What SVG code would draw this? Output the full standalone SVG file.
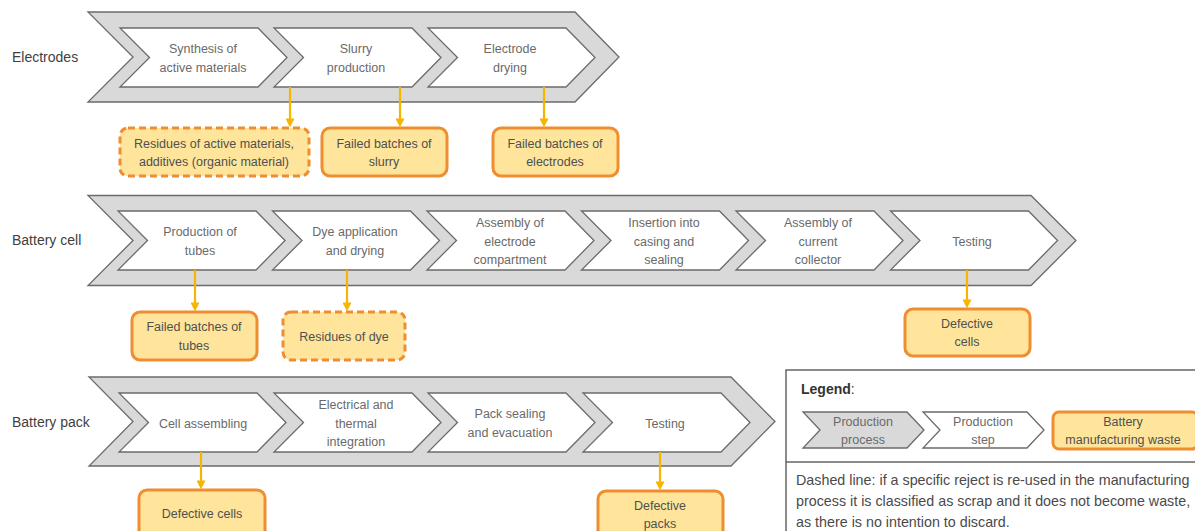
<svg xmlns="http://www.w3.org/2000/svg" width="1195" height="531" viewBox="0 0 1195 531">
  <defs>
    <style>
      .proc { fill: #d9d9d9; stroke: #6b6b6b; stroke-width: 1.3; stroke-linejoin: miter; }
      .step { fill: #ffffff; stroke: #6b6b6b; stroke-width: 1.3; stroke-linejoin: miter; }
      .waste { fill: #fee59b; stroke: #ef8e30; stroke-width: 3; }
      .scrap { fill: #fee59b; stroke: #ef8e30; stroke-width: 3; stroke-dasharray: 7 4; }
      .flow { stroke: #f6b500; stroke-width: 2.2; fill: none; marker-end: url(#head); }
      text { font-family: "Liberation Sans", Arial, sans-serif; }
      .row { font-size: 14px; fill: #3f3f3f; }
      .st { font-size: 12.5px; fill: #6a6a6a; text-anchor: middle; }
      .wt { font-size: 12.5px; fill: #505050; text-anchor: middle; }
      .lg { font-size: 14px; fill: #333333; }
      .note { font-size: 14.3px; fill: #4a4a4a; }
    </style>
    <marker id="head" viewBox="0 0 10 10" refX="4" refY="5" markerWidth="9" markerHeight="9" markerUnits="userSpaceOnUse" orient="auto">
      <path d="M0,0 L10,5 L0,10 z" fill="#f6b500"/>
    </marker>
  </defs>

  <!-- Row: Electrodes -->
  <g id="row-electrodes">
    <text class="row" x="12" y="62">Electrodes</text>
    <polygon class="proc" points="88,12 575,12 619,57 575,102 88,102 133,57"/>
  </g>
  <g id="step-synthesis">
    <polygon class="step" points="120,28 258,28 287,57.5 258,87 120,87 149.5,57.5"/>
    <text class="st" x="203" y="53">Synthesis of</text>
    <text class="st" x="203" y="72">active materials</text>
  </g>
  <g id="step-slurry">
    <polygon class="step" points="274,28 412,28 441,57.5 412,87 274,87 303.5,57.5"/>
    <text class="st" x="356" y="53">Slurry</text>
    <text class="st" x="356" y="72">production</text>
  </g>
  <g id="step-electrode-drying">
    <polygon class="step" points="428,28 566,28 595,57.5 566,87 428,87 457.5,57.5"/>
    <text class="st" x="510" y="53">Electrode</text>
    <text class="st" x="510" y="72">drying</text>
  </g>
  <g id="waste-residues-active">
    <rect class="scrap" x="120" y="128" width="189" height="48" rx="8"/>
    <text class="wt" x="214" y="148">Residues of active materials,</text>
    <text class="wt" x="214" y="166">additives (organic material)</text>
  </g>
  <g id="waste-slurry">
    <rect class="waste" x="322" y="128" width="125" height="48" rx="8"/>
    <text class="wt" x="384" y="148">Failed batches of</text>
    <text class="wt" x="384" y="166">slurry</text>
  </g>
  <g id="waste-electrodes">
    <rect class="waste" x="493" y="128" width="125" height="48" rx="8"/>
    <text class="wt" x="555" y="148">Failed batches of</text>
    <text class="wt" x="555" y="166">electrodes</text>
  </g>

  <!-- Row: Battery cell -->
  <g id="row-battery-cell">
    <text class="row" x="12" y="245">Battery cell</text>
    <polygon class="proc" points="88,195.5 1031,195.5 1076,240.5 1031,285.5 88,285.5 133,240.5"/>
  </g>
  <g id="step-tubes">
    <polygon class="step" points="118,211 256,211 285,240.5 256,270 118,270 147.5,240.5"/>
    <text class="st" x="200" y="236">Production of</text>
    <text class="st" x="200" y="255">tubes</text>
  </g>
  <g id="step-dye">
    <polygon class="step" points="272.5,211 410.5,211 439.5,240.5 410.5,270 272.5,270 302,240.5"/>
    <text class="st" x="355" y="236">Dye application</text>
    <text class="st" x="355" y="255">and drying</text>
  </g>
  <g id="step-electrode-compartment">
    <polygon class="step" points="427,211 565,211 594,240.5 565,270 427,270 456.5,240.5"/>
    <text class="st" x="510" y="227">Assembly of</text>
    <text class="st" x="510" y="245.5">electrode</text>
    <text class="st" x="510" y="264">compartment</text>
  </g>
  <g id="step-casing">
    <polygon class="step" points="581.5,211 719.5,211 748.5,240.5 719.5,270 581.5,270 611,240.5"/>
    <text class="st" x="664" y="227">Insertion into</text>
    <text class="st" x="664" y="245.5">casing and</text>
    <text class="st" x="664" y="264">sealing</text>
  </g>
  <g id="step-collector">
    <polygon class="step" points="736,211 874,211 903,240.5 874,270 736,270 765.5,240.5"/>
    <text class="st" x="818" y="227">Assembly of</text>
    <text class="st" x="818" y="245.5">current</text>
    <text class="st" x="818" y="264">collector</text>
  </g>
  <g id="step-cell-testing">
    <polygon class="step" points="890.5,211 1028.5,211 1057.5,240.5 1028.5,270 890.5,270 920,240.5"/>
    <text class="st" x="972" y="245.5">Testing</text>
  </g>
  <g id="waste-tubes">
    <rect class="waste" x="132" y="312" width="125" height="48" rx="8"/>
    <text class="wt" x="194" y="331">Failed batches of</text>
    <text class="wt" x="194" y="349.5">tubes</text>
  </g>
  <g id="waste-dye">
    <rect class="scrap" x="283" y="312" width="122" height="48" rx="8"/>
    <text class="wt" x="344" y="340.5">Residues of dye</text>
  </g>
  <g id="waste-defective-cells-test">
    <rect class="waste" x="905" y="309" width="125" height="47" rx="8"/>
    <text class="wt" x="967" y="327.5">Defective</text>
    <text class="wt" x="967" y="346">cells</text>
  </g>

  <!-- Row: Battery pack -->
  <g id="row-battery-pack">
    <text class="row" x="12" y="427">Battery pack</text>
    <polygon class="proc" points="89,377 731,377 775,421.5 731,466 89,466 133,421.5"/>
  </g>
  <g id="step-cell-assembling">
    <polygon class="step" points="119,393 257,393 286,422.5 257,452 119,452 148.5,422.5"/>
    <text class="st" x="203" y="427.5">Cell assembling</text>
  </g>
  <g id="step-integration">
    <polygon class="step" points="274,393 412,393 441,422.5 412,452 274,452 303.5,422.5"/>
    <text class="st" x="356" y="409">Electrical and</text>
    <text class="st" x="356" y="427.5">thermal</text>
    <text class="st" x="356" y="446">integration</text>
  </g>
  <g id="step-pack-sealing">
    <polygon class="step" points="428,393 566,393 595,422.5 566,452 428,452 457.5,422.5"/>
    <text class="st" x="510" y="418">Pack sealing</text>
    <text class="st" x="510" y="437">and evacuation</text>
  </g>
  <g id="step-pack-testing">
    <polygon class="step" points="583,393 721,393 750,422.5 721,452 583,452 612.5,422.5"/>
    <text class="st" x="665" y="427.5">Testing</text>
  </g>
  <g id="waste-defective-cells">
    <rect class="waste" x="139" y="490" width="126" height="60" rx="8"/>
    <text class="wt" x="202" y="518">Defective cells</text>
  </g>
  <g id="waste-defective-packs">
    <rect class="waste" x="598" y="491" width="125" height="60" rx="8"/>
    <text class="wt" x="660" y="509.5">Defective</text>
    <text class="wt" x="660" y="528">packs</text>
  </g>

  <!-- Connectors -->
  <g id="connectors">
    <line class="flow" x1="290" y1="87" x2="290" y2="122"/>
    <line class="flow" x1="400" y1="87" x2="400" y2="122"/>
    <line class="flow" x1="544" y1="87" x2="544" y2="122"/>
    <line class="flow" x1="195" y1="270" x2="195" y2="306"/>
    <line class="flow" x1="347" y1="270" x2="347" y2="306"/>
    <line class="flow" x1="967" y1="270" x2="967" y2="303"/>
    <line class="flow" x1="201" y1="452" x2="201" y2="484"/>
    <line class="flow" x1="660" y1="452" x2="660" y2="485"/>
  </g>

  <!-- Legend -->
  <g id="legend">
    <rect x="786" y="370" width="430" height="200" fill="#ffffff" stroke="#666666" stroke-width="1.5"/>
    <line x1="786" y1="462" x2="1195" y2="462" stroke="#666666" stroke-width="1.5"/>
    <text class="lg" x="801" y="394"><tspan font-weight="bold">Legend</tspan>:</text>
    <polygon class="proc" points="803,412 907,412 924,430 907,448 803,448 820,430"/>
    <text class="st" x="863" y="425.5">Production</text>
    <text class="st" x="863" y="444">process</text>
    <polygon class="step" points="923,412 1027,412 1044,430 1027,448 923,448 940,430"/>
    <text class="st" x="983" y="425.5">Production</text>
    <text class="st" x="983" y="444">step</text>
    <rect class="waste" x="1053" y="412" width="145" height="37" rx="6"/>
    <text class="wt" x="1123" y="425.5">Battery</text>
    <text class="wt" x="1123" y="444">manufacturing waste</text>
    <text class="note" x="796" y="485">Dashed line: if a specific reject is re-used in the manufacturing</text>
    <text class="note" x="796" y="506">process it is classified as scrap and it does not become waste,</text>
    <text class="note" x="796" y="527">as there is no intention to discard.</text>
  </g>
</svg>
